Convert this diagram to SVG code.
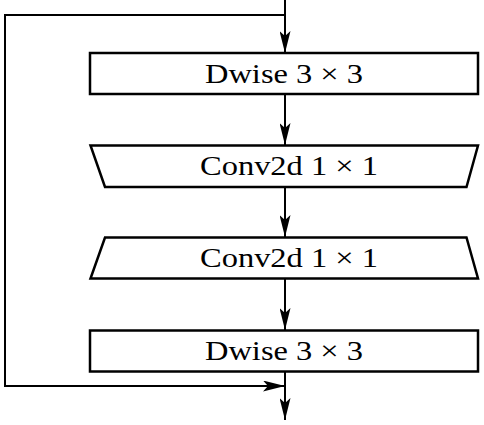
<svg xmlns="http://www.w3.org/2000/svg" width="484" height="425" viewBox="0 0 484 425">
<style>
.box{fill:#fff;stroke:#000;stroke-width:2.5}
.lbl{font-family:"Liberation Serif","Times New Roman",serif;font-size:27px;fill:#000;text-anchor:middle}
.con{fill:none;stroke:#000;stroke-width:2}
</style>
<defs>
<marker id="ah" markerUnits="userSpaceOnUse" markerWidth="22" markerHeight="11" viewBox="0 0 22 11" refX="22" refY="5.5" orient="auto">
<path d="M0,0 L22,5.5 L0,11 L5,5.5 z" fill="#000"/>
</marker>
</defs>
<rect width="484" height="425" fill="#fff"/>
<g id="connectors">
<path class="con" d="M285,0 L285,53" marker-end="url(#ah)"/>
<path class="con" d="M285,15 L5,15 L5,386 L285,386" marker-end="url(#ah)"/>
<path class="con" d="M285,94 L285,145" marker-end="url(#ah)"/>
<path class="con" d="M285,187 L285,237" marker-end="url(#ah)"/>
<path class="con" d="M285,278 L285,330" marker-end="url(#ah)"/>
<path class="con" d="M285,372 L285,420" marker-end="url(#ah)"/>
</g>
<g id="dwise1">
<rect class="box" x="90" y="53" width="388" height="41"/>
<text class="lbl" x="284" y="82.5" textLength="158" lengthAdjust="spacingAndGlyphs">Dwise 3 × 3</text>
</g>
<g id="conv1">
<path class="box" d="M90.5,145.5 L478,145.5 L466.5,187 L105,187 z"/>
<text class="lbl" x="289" y="175" textLength="178" lengthAdjust="spacingAndGlyphs">Conv2d 1 × 1</text>
</g>
<g id="conv2">
<path class="box" d="M105,237.5 L466.5,237.5 L478,278.5 L90.5,278.5 z"/>
<text class="lbl" x="289" y="267" textLength="178" lengthAdjust="spacingAndGlyphs">Conv2d 1 × 1</text>
</g>
<g id="dwise2">
<rect class="box" x="90" y="330.5" width="388" height="41"/>
<text class="lbl" x="284" y="360" textLength="158" lengthAdjust="spacingAndGlyphs">Dwise 3 × 3</text>
</g>
</svg>
